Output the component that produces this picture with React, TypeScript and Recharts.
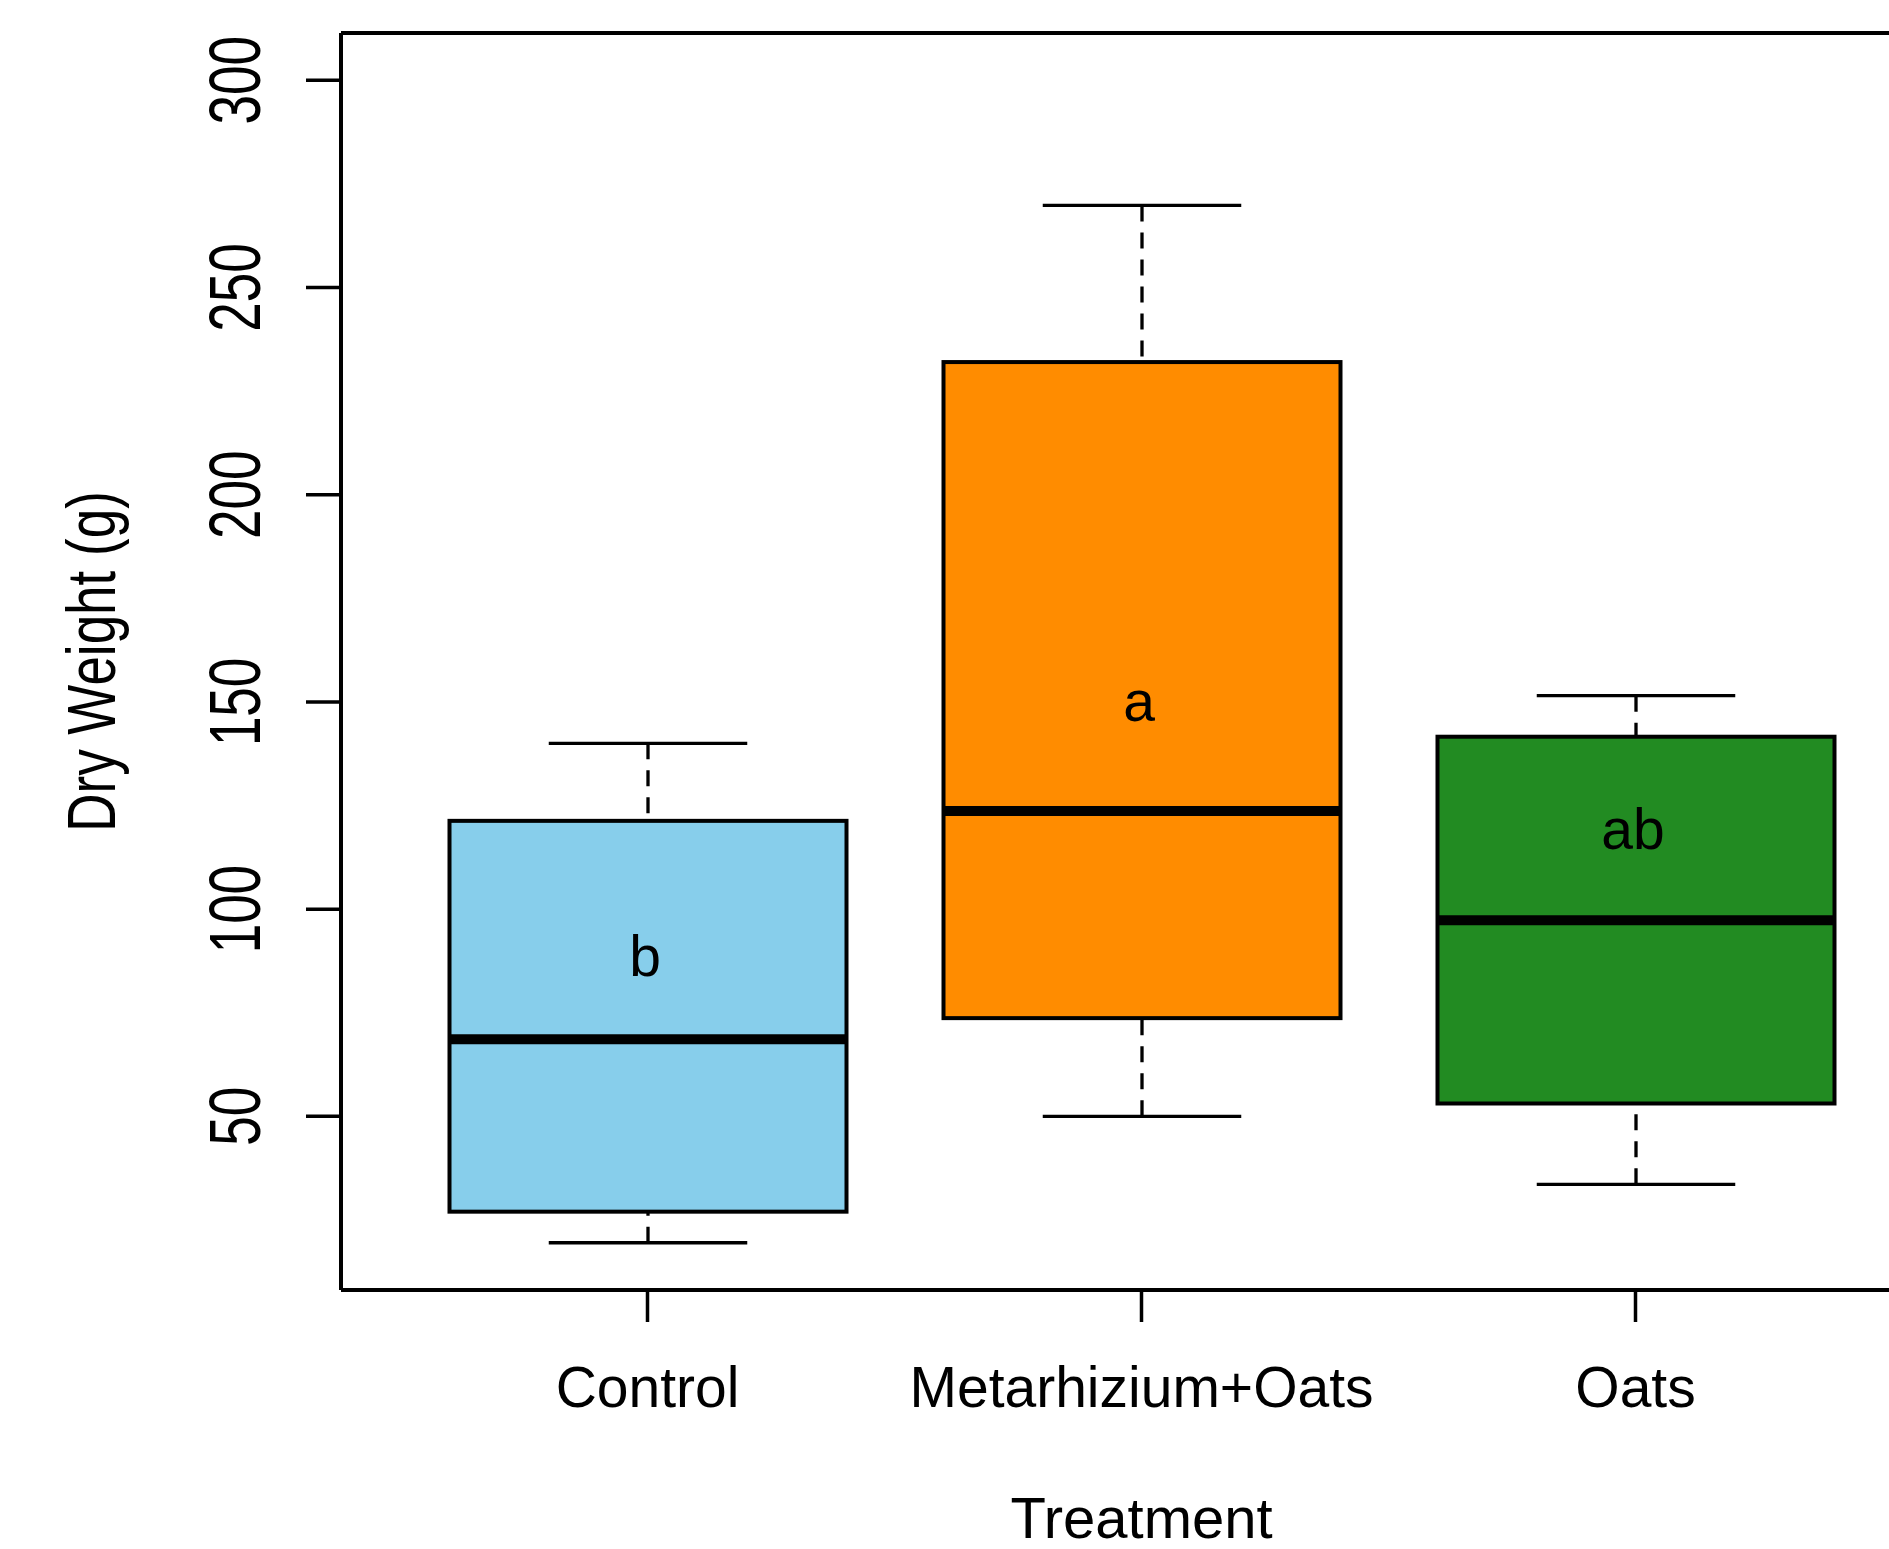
import { ComposedChart, Bar, XAxis, YAxis, ReferenceLine } from 'recharts'

const treatments = ['Control', 'Metarhizium+Oats', 'Oats']
const mins = [19.5, 50, 33.6]
const q1s = [27, 73.7, 53.1]
const medians = [68.6, 123.7, 97.3]
const q3s = [121.3, 232, 141.6]
const maxes = [140, 269.8, 151.5]
const letters = ['b', 'a', 'ab']
const letterYs = [89, 150.5, 119.6]
const fills = ['#87CEEB', '#FF8C00', '#228B22']
const yTicks = [50, 100, 150, 200, 250, 300]
const yDomain: [number, number] = [8.1, 311.4]

const data = treatments.map((name, i) => ({
  name,
  min: mins[i],
  q1: q1s[i],
  median: medians[i],
  q3: q3s[i],
  max: maxes[i],
  letter: letters[i],
  letterY: letterYs[i],
  fill: fills[i],
}))

const FONT = '"Liberation Sans", Arial, Helvetica, sans-serif'

function BoxShape(props: any) {
  const { x, y, width, height } = props
  const d = props.payload ?? props
  const top = Math.min(y, y + height)
  const bottom = Math.max(y, y + height)
  // map a value to pixels along the bar's own min..max span
  const py = (v: number) => bottom - ((v - d.min) / (d.max - d.min)) * (bottom - top)
  const cx = x + width / 2
  const cap = width / 4
  return (
    <g>
      <line x1={cx} y1={py(d.max)} x2={cx} y2={py(d.q3)} stroke="#000" strokeWidth={3.3} strokeDasharray="16 11" />
      <line x1={cx} y1={py(d.min)} x2={cx} y2={py(d.q1)} stroke="#000" strokeWidth={3.3} strokeDasharray="16 11" />
      <line x1={cx - cap} y1={py(d.max)} x2={cx + cap} y2={py(d.max)} stroke="#000" strokeWidth={3.3} />
      <line x1={cx - cap} y1={py(d.min)} x2={cx + cap} y2={py(d.min)} stroke="#000" strokeWidth={3.3} />
      <rect
        x={x}
        y={py(d.q3)}
        width={width}
        height={py(d.q1) - py(d.q3)}
        fill={d.fill}
        stroke="#000"
        strokeWidth={4}
      />
      <line x1={x} y1={py(d.median)} x2={x + width} y2={py(d.median)} stroke="#000" strokeWidth={10} />
      <text x={cx - 3} y={py(d.letterY) + 21} textAnchor="middle" fontSize={57} fontFamily={FONT} fill="#000">
        {d.letter}
      </text>
    </g>
  )
}

function YTick(props: any) {
  const { x, y, payload } = props
  return (
    <text
      transform={`translate(${x},${y}) rotate(-90) scale(1,1.38)`}
      textAnchor="middle"
      fontSize={53}
      fontFamily={FONT}
      fill="#000"
    >
      {payload.value}
    </text>
  )
}

function XTick(props: any) {
  const { x, y, payload } = props
  return (
    <text x={x} y={y + 40} textAnchor="middle" fontSize={57} fontFamily={FONT} fill="#000">
      {payload.value}
    </text>
  )
}

function YTitle(props: any) {
  const vb = props.viewBox
  const cy = vb.y + vb.height / 2
  return (
    <text
      transform={`translate(115,${cy}) rotate(-90) scale(1,1.29)`}
      textAnchor="middle"
      fontSize={53}
      fontFamily={FONT}
      fill="#000"
    >
      Dry Weight (g)
    </text>
  )
}

function XTitle(props: any) {
  const vb = props.viewBox
  return (
    <text x={vb.x + vb.width / 2} y={vb.y + 248} textAnchor="middle" fontSize={58} fontFamily={FONT} fill="#000">
      Treatment
    </text>
  )
}

export default function App() {
  return (
    <div
      style={{
        position: 'fixed',
        left: 0,
        top: 0,
        width: 1889,
        height: 1549,
        overflow: 'hidden',
        background: '#fff',
      }}
    >
      <ComposedChart width={1960} height={1549} data={data} margin={{ top: 33, right: 18, left: 0, bottom: 0 }}>
        <XAxis
          dataKey="name"
          type="category"
          height={259}
          padding={{ left: 59.5, right: 59.5 }}
          axisLine={{ stroke: '#000', strokeWidth: 4 }}
          tickLine={{ stroke: '#000', strokeWidth: 3.5 }}
          tickSize={32}
          tickMargin={45}
          tick={<XTick />}
          interval={0}
          label={<XTitle />}
        />
        <YAxis
          type="number"
          domain={yDomain}
          ticks={yTicks}
          allowDataOverflow
          width={341}
          axisLine={{ stroke: '#000', strokeWidth: 4 }}
          tickLine={{ stroke: '#000', strokeWidth: 3.5 }}
          tickSize={35}
          tickMargin={46}
          tick={<YTick />}
          label={<YTitle />}
        />
        <ReferenceLine y={yDomain[1]} stroke="#000" strokeWidth={4} ifOverflow="visible" />
        <Bar
          dataKey={(d: any) => [d.min, d.max]}
          barSize={397}
          shape={<BoxShape />}
          isAnimationActive={false}
        />
      </ComposedChart>
    </div>
  )
}
